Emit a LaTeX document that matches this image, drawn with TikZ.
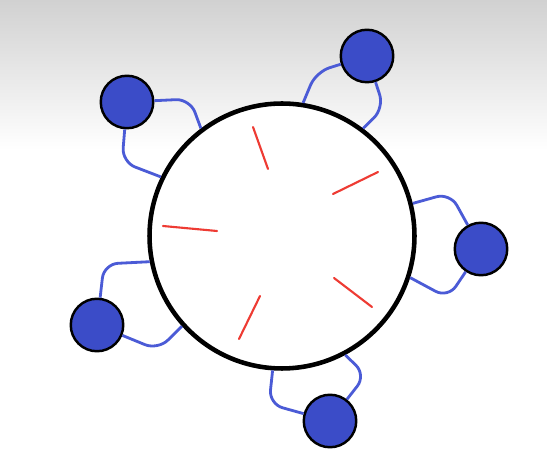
\documentclass[tikz,border=0pt]{standalone}
\usepackage{tikz}
\usetikzlibrary{positioning, calc}
\usepackage{xcolor}
\definecolor{philblue}{HTML}{3B4CC8}
\definecolor{armblue}{HTML}{4B5BD6}
\definecolor{forkred}{HTML}{EE3B33}

\begin{document}
\begin{tikzpicture}[x=0.02cm, y=-0.02cm,
    diningtable/.style={draw, circle, line width=2.6pt, fill=white,
                        minimum size=5.3cm, inner sep=0pt},
    philo/.style={draw, circle, line width=1.4pt, fill=philblue,
                  minimum size=1.05cm, inner sep=0pt},
    arm/.style={armblue, line width=1.6pt, rounded corners=8pt},
    fork/.style={forkred, line width=1.2pt, line cap=round}
  ]
    \useasboundingbox (0,0) rectangle (547,465);
    \shade[top color=gray!36, bottom color=white] (0,0) rectangle (547,150);

    % table and philosophers
    \node[diningtable] (tbl) at (282,236) {};
    \node[philo] (p1) at (127,102) {};
    \node[philo] (p2) at (367,56) {};
    \node[philo] (p3) at (481,249) {};
    \node[philo] (p4) at (97,325) {};
    \node[philo] (p5) at (330,421) {};

    % arms
    \draw[arm] (p1) -- (190,99) -- (tbl.127);
    \draw[arm] (p1) -- (122,162) -- (tbl.154);
    \draw[arm] (p2) -- (316,72) -- (tbl.81);
    \draw[arm] (p2) -- (384,108) -- (tbl.53);
    \draw[arm] (p3) -- (450,193) -- (tbl.14);
    \draw[arm] (p3) -- (448,298) -- (tbl.-18);
    \draw[arm] (p4) -- (104,264) -- (tbl.191);
    \draw[arm] (p4) -- (158,350) -- (tbl.222);
    \draw[arm] (p5) -- (269,404) -- (tbl.266);
    \draw[arm] (p5) -- (366,375) -- (tbl.298);

    % forks
    \draw[fork] (253,127) -- (268,169);
    \draw[fork] (333,194) -- (378,172);
    \draw[fork] (163,226) -- (217,231);
    \draw[fork] (334,278) -- (372,307);
    \draw[fork] (260,296) -- (239,339);
  \end{tikzpicture}
\end{document}
